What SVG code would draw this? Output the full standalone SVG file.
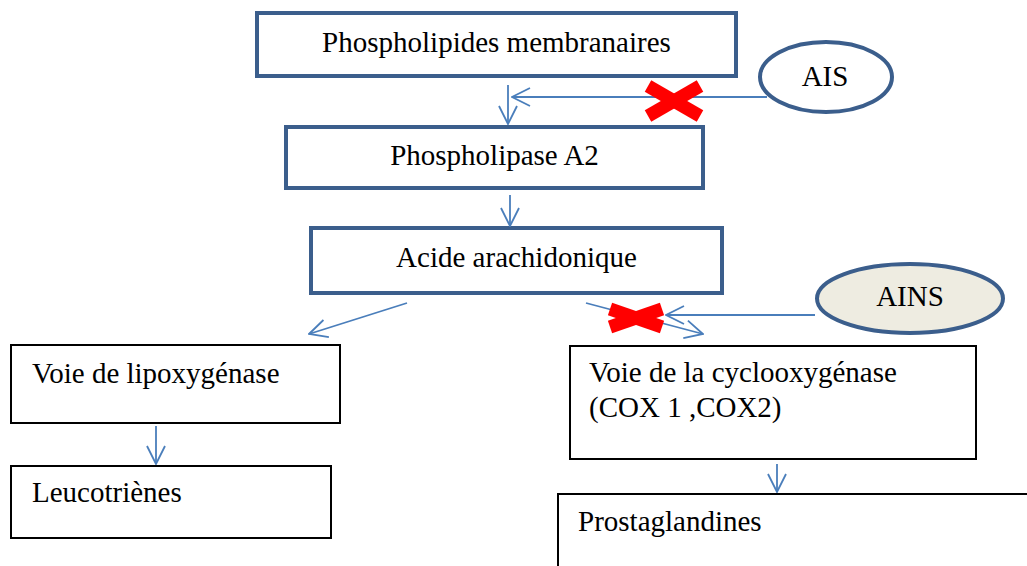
<svg xmlns="http://www.w3.org/2000/svg" width="1027" height="566" viewBox="0 0 1027 566">
<style>
.bb{fill:#fff;stroke:#3b5e8c;stroke-width:4}
.kb{fill:#fff;stroke:#000;stroke-width:2}
.t{font-family:"Liberation Serif","Times New Roman",serif;font-size:29px;fill:#000}
.c{stroke:#4a7ebb;stroke-width:1.8;fill:none;marker-end:url(#ah)}
.x{stroke:#ff0000;stroke-width:13;stroke-linecap:butt}
</style>
<defs>
<marker id="ah" viewBox="0 0 20 20" refX="19" refY="10" markerWidth="20" markerHeight="20" markerUnits="userSpaceOnUse" orient="auto">
<path d="M1,1 L19,10 L1,19" fill="none" stroke="#4a7ebb" stroke-width="1.8"/>
</marker>
</defs>
<rect width="1027" height="566" fill="#fff"/>
<g id="n-phospholipides">
<rect class="bb" x="257" y="13" width="479" height="63"/>
<text class="t" x="496.5" y="52" text-anchor="middle">Phospholipides membranaires</text>
</g>
<g id="n-ais">
<ellipse cx="826" cy="77" rx="66" ry="35" fill="#fff" stroke="#3b5e8c" stroke-width="4"/>
<text class="t" x="825" y="86" text-anchor="middle">AIS</text>
</g>
<g id="n-pla2">
<rect class="bb" x="286" y="127" width="417" height="61"/>
<text class="t" x="494.5" y="165" text-anchor="middle">Phospholipase A2</text>
</g>
<g id="n-acide">
<rect class="bb" x="311" y="228" width="411" height="65"/>
<text class="t" x="516.5" y="267" text-anchor="middle">Acide arachidonique</text>
</g>
<g id="n-ains">
<ellipse cx="910" cy="298.5" rx="93" ry="34.5" fill="#eeece1" stroke="#3b5e8c" stroke-width="4"/>
<text class="t" x="910" y="306" text-anchor="middle" fill="#1c1c1c">AINS</text>
</g>
<g id="n-lipox">
<rect class="kb" x="11" y="345" width="329" height="78"/>
<text class="t" x="32" y="383">Voie de lipoxygénase</text>
</g>
<g id="n-leuco">
<rect class="kb" x="11" y="466" width="320" height="72"/>
<text class="t" x="32" y="502">Leucotriènes</text>
</g>
<g id="n-cox">
<rect class="kb" x="570" y="346" width="406" height="113"/>
<text class="t" x="589" y="382">Voie de la cyclooxygénase</text>
<text class="t" x="589" y="417">(COX 1 ,COX2)</text>
</g>
<g id="n-prosta">
<rect class="kb" x="558" y="494" width="480" height="90"/>
<text class="t" x="578" y="531">Prostaglandines</text>
</g>
<g id="connectors">
<line class="c" x1="508" y1="85" x2="508" y2="124"/>
<line class="c" x1="767" y1="97" x2="512" y2="97"/>
<line class="c" x1="510" y1="195" x2="510" y2="226"/>
<line class="c" x1="407" y1="303" x2="309" y2="334"/>
<line class="c" x1="586" y1="303" x2="703" y2="334"/>
<line class="c" x1="815" y1="315" x2="666" y2="315"/>
<line class="c" x1="156" y1="426" x2="156" y2="464"/>
<line class="c" x1="777" y1="464" x2="777" y2="492"/>
</g>
<g id="cross-ais">
<line class="x" x1="648" y1="86" x2="700" y2="116"/>
<line class="x" x1="648" y1="116" x2="700" y2="86"/>
</g>
<g id="cross-ains">
<line class="x" x1="610" y1="309" x2="662" y2="327"/>
<line class="x" x1="610" y1="327" x2="662" y2="309"/>
</g>
</svg>
